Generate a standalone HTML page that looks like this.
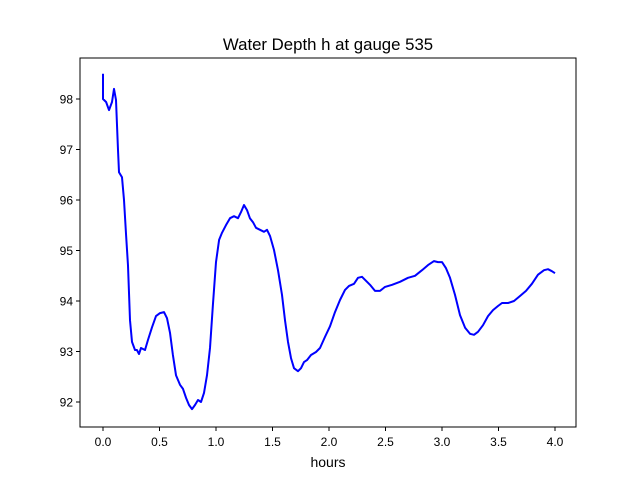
<!DOCTYPE html>
<html><head><meta charset="utf-8"><style>
body{margin:0;background:#fff;}
svg{display:block;font-family:"Liberation Sans","DejaVu Sans",sans-serif;}
</style></head><body>
<svg id="chart" width="640" height="480" viewBox="0 0 640 480">
<rect width="640" height="480" fill="#fff"/>
<text x="328" y="50" text-anchor="middle" font-size="16.8">Water Depth h at gauge 535</text>
<g id="ticks"></g>
<path id="series" fill="none" stroke="#0000ff" stroke-width="2" stroke-linejoin="round"/>
<rect x="80" y="58" width="496" height="369" fill="none" stroke="#000" stroke-width="1"/>
<text x="328" y="467" text-anchor="middle" font-size="14">hours</text>
</svg>
<script>
const hours=[0,0,0.027,0.053,0.08,0.097,0.115,0.133,0.142,0.168,0.186,0.204,0.221,0.239,0.257,0.283,0.3,0.319,0.336,0.372,0.398,0.434,0.469,0.504,0.54,0.566,0.593,0.619,0.646,0.681,0.708,0.735,0.761,0.788,0.814,0.841,0.867,0.894,0.92,0.947,0.973,1.0,1.027,1.053,1.088,1.124,1.159,1.195,1.221,1.248,1.274,1.3,1.327,1.354,1.389,1.425,1.451,1.478,1.513,1.549,1.584,1.611,1.637,1.664,1.69,1.726,1.752,1.779,1.805,1.841,1.885,1.92,1.965,2.009,2.053,2.097,2.142,2.177,2.221,2.257,2.292,2.327,2.363,2.407,2.451,2.496,2.558,2.628,2.699,2.761,2.823,2.876,2.929,2.965,3.0,3.035,3.071,3.115,3.159,3.204,3.248,3.283,3.319,3.363,3.407,3.451,3.496,3.531,3.584,3.637,3.69,3.743,3.796,3.85,3.903,3.938,3.973,4.0];
const depth=[98.5,98.0,97.94,97.78,97.94,98.2,97.98,96.99,96.55,96.45,96.0,95.3,94.7,93.62,93.19,93.03,93.03,92.95,93.07,93.03,93.23,93.48,93.70,93.76,93.78,93.66,93.37,92.93,92.53,92.34,92.26,92.08,91.94,91.86,91.94,92.04,92.0,92.18,92.53,93.07,93.92,94.77,95.21,95.35,95.5,95.64,95.68,95.64,95.76,95.9,95.8,95.64,95.56,95.45,95.41,95.37,95.41,95.29,95.01,94.61,94.12,93.62,93.19,92.87,92.67,92.61,92.67,92.79,92.83,92.93,92.99,93.07,93.29,93.5,93.78,94.02,94.22,94.30,94.34,94.46,94.48,94.4,94.32,94.2,94.2,94.28,94.32,94.38,94.46,94.5,94.61,94.71,94.79,94.77,94.77,94.65,94.46,94.12,93.72,93.47,93.35,93.33,93.39,93.52,93.70,93.82,93.90,93.96,93.96,94.0,94.1,94.2,94.34,94.52,94.61,94.63,94.59,94.55];
const xTicks=[0.0,0.5,1.0,1.5,2.0,2.5,3.0,3.5,4.0];
const yTicks=[92,93,94,95,96,97,98];
const X=v=>103+v*113;
const Y=v=>99+(98-v)*50.5;
const NS="http://www.w3.org/2000/svg";
const g=document.getElementById('ticks');
function mk(tag,attrs){const e=document.createElementNS(NS,tag);for(const k in attrs)e.setAttribute(k,attrs[k]);g.appendChild(e);return e;}
xTicks.forEach(t=>{
  const l=mk('line',{x1:X(t),x2:X(t),y1:427,y2:431,stroke:'#000'});
  
  
  const tx=mk('text',{x:X(t),y:446,'text-anchor':'middle','font-size':'12'});
  tx.textContent=t.toFixed(1);
  
  
});
yTicks.forEach(t=>{
  const l=mk('line',{x1:76,x2:80,y1:Y(t),y2:Y(t),stroke:'#000'});
  
  
  const tx=mk('text',{x:73,y:Y(t)+4.5,'text-anchor':'end','font-size':'12'});
  tx.textContent=String(t);
  
  
});
document.getElementById('series').setAttribute('d',hours.map((h,i)=>(i?'L':'M')+X(h).toFixed(1)+' '+Y(depth[i]).toFixed(1)).join(' '));
</script>
</body></html>
